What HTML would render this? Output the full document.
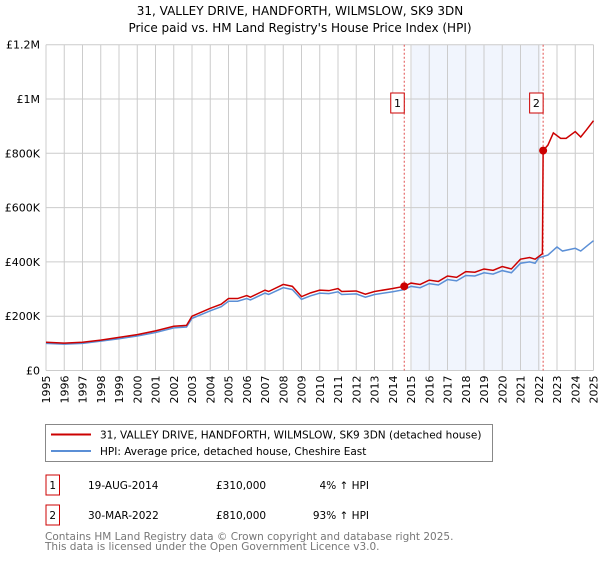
<!DOCTYPE html>
<html><head><meta charset="utf-8"><style>
body{margin:0;background:#fff;width:600px;height:560px;overflow:hidden;font-family:"DejaVu Sans","Liberation Sans",sans-serif;}
svg text{font-family:"DejaVu Sans","Liberation Sans",sans-serif;}
</style></head><body>
<svg width="600" height="560" id="c">
<text x="300" y="15" text-anchor="middle" font-size="12">31, VALLEY DRIVE, HANDFORTH, WILMSLOW, SK9 3DN</text>
<text x="300" y="32" text-anchor="middle" font-size="12">Price paid vs. HM Land Registry's House Price Index (HPI)</text>
<g id="grid"></g><g id="plot"></g><g id="axes"></g>
<g>
<rect x="45.5" y="424.5" width="447" height="37" fill="#fff" stroke="#888"/>
<line x1="51" y1="434.5" x2="91" y2="434.5" stroke="#cc0000" stroke-width="2"/>
<text x="100" y="438.5" font-size="10.5">31, VALLEY DRIVE, HANDFORTH, WILMSLOW, SK9 3DN (detached house)</text>
<line x1="51" y1="451" x2="91" y2="451" stroke="#5b8fd6" stroke-width="2"/>
<text x="100" y="455" font-size="10.5">HPI: Average price, detached house, Cheshire East</text>
</g>
<g font-size="10.5">
<rect x="46" y="475" width="13.5" height="20" fill="#fff" stroke="#cc0000"/>
<text x="52.7" y="489" text-anchor="middle">1</text>
<text x="88" y="489">19-AUG-2014</text><text x="216" y="489">£310,000</text><text x="369" y="489" text-anchor="end">4% ↑ HPI</text>
<rect x="46" y="505" width="13.5" height="20" fill="#fff" stroke="#cc0000"/>
<text x="52.7" y="519" text-anchor="middle">2</text>
<text x="88" y="519">30-MAR-2022</text><text x="216" y="519">£810,000</text><text x="369" y="519" text-anchor="end">93% ↑ HPI</text>
</g>
<text x="45" y="540" font-size="10.5" fill="#777">Contains HM Land Registry data © Crown copyright and database right 2025.</text>
<text x="45" y="550" font-size="10.5" fill="#777">This data is licensed under the Open Government Licence v3.0.</text>
</svg>
<script>
const yearTicks=[1995,1996,1997,1998,1999,2000,2001,2002,2003,2004,2005,2006,2007,2008,2009,2010,2011,2012,2013,2014,2015,2016,2017,2018,2019,2020,2021,2022,2023,2024,2025];
const valueTicks=[0,200000,400000,600000,800000,1000000,1200000];
const valueTickLabels=["£0","£200K","£400K","£600K","£800K","£1M","£1.2M"];
const hpiDates=[1995,1996,1997,1998,1999,2000,2001,2002,2002.7,2003,2004,2004.6,2005,2005.5,2006,2006.2,2007,2007.2,2008,2008.5,2009,2009.5,2010,2010.5,2011,2011.2,2012,2012.5,2013,2014,2014.63,2015,2015.5,2016,2016.5,2017,2017.5,2018,2018.5,2019,2019.5,2020,2020.5,2021,2021.5,2021.8,2022,2022.5,2023,2023.3,2024,2024.3,2024.7,2025];
const hpiValues=[100000,97000,100000,108000,117000,127000,140000,157000,160000,192000,220000,235000,255000,255000,265000,260000,285000,280000,305000,298000,262000,275000,285000,283000,290000,280000,282000,270000,280000,290000,298000,310000,305000,320000,315000,335000,330000,350000,348000,360000,355000,368000,360000,395000,400000,395000,415000,425000,455000,440000,450000,440000,462000,478000];
const priceDates=[1995,1996,1997,1998,1999,2000,2001,2002,2002.7,2003,2004,2004.6,2005,2005.5,2006,2006.2,2007,2007.2,2008,2008.5,2009,2009.5,2010,2010.5,2011,2011.2,2012,2012.5,2013,2014,2014.63,2015,2015.5,2016,2016.5,2017,2017.5,2018,2018.5,2019,2019.5,2020,2020.5,2021,2021.5,2021.8,2022.2,2022.24,2022.5,2022.8,2023.2,2023.5,2024,2024.3,2024.6,2025];
const priceValues=[104000,101000,104000,112000,122000,132000,146000,163000,166000,200000,229000,244000,265000,265000,276000,270000,296000,291000,317000,310000,272000,286000,296000,294000,302000,291000,293000,281000,291000,302000,310000,322000,317000,333000,328000,348000,343000,364000,362000,374000,369000,383000,374000,410000,416000,410000,430000,810000,830000,875000,855000,855000,880000,860000,885000,920000];
const sales=[{d:2014.63,v:310000,label:"1"},{d:2022.24,v:810000,label:"2"}];
const shadeRange=[2015.05,2022.1];
const X0=46,X1=593.5,Y0=370.5,Y1=44.7;
const xs=d=>X0+(d-1995)/(2025-1995)*(X1-X0);
const ys=v=>Y0-v/1200000*(Y0-Y1);
const NS="http://www.w3.org/2000/svg";
function mk(p,t,a){const e=document.createElementNS(NS,t);for(const k in a)e.setAttribute(k,a[k]);p.appendChild(e);return e;}
const grid=document.getElementById('grid'),plot=document.getElementById('plot'),axes=document.getElementById('axes');
const sh=mk(grid,'rect',{x:xs(shadeRange[0]),y:Y1,width:xs(shadeRange[1])-xs(shadeRange[0]),height:Y0-Y1,fill:'#eef3fc',opacity:0.8});


yearTicks.forEach(y=>{
 const l=mk(grid,'line',{x1:xs(y),x2:xs(y),y1:Y1,y2:Y0,stroke:'#ccc','stroke-width':1});
 
 
 const t=mk(axes,'text',{transform:`translate(${xs(y)+4},${Y0+5}) rotate(-90)`,'text-anchor':'end','font-size':11});
 
 
 t.textContent=y;
});
valueTicks.forEach((v,i)=>{
 const l=mk(grid,'line',{x1:X0,x2:X1,y1:ys(v),y2:ys(v),stroke:'#ccc','stroke-width':1});
 
 
 const t=mk(axes,'text',{x:X0-6,y:ys(v)+4,'text-anchor':'end','font-size':11});
 
 
 t.textContent=valueTickLabels[i];
});
sales.forEach(s=>{
 const l=mk(plot,'line',{x1:xs(s.d),x2:xs(s.d),y1:Y1,y2:Y0,stroke:'#e05050','stroke-width':1,'stroke-dasharray':'2,2'});
 
 
});
const hp=mk(plot,'polyline',{points:hpiDates.map((d,i)=>xs(d)+','+ys(hpiValues[i])).join(' '),fill:'none',stroke:'#5b8fd6','stroke-width':1.5});


const pp=mk(plot,'polyline',{points:priceDates.map((d,i)=>xs(d)+','+ys(priceValues[i])).join(' '),fill:'none',stroke:'#cc0000','stroke-width':1.5});


sales.forEach(s=>{
 const c=mk(plot,'circle',{cx:xs(s.d),cy:ys(s.v),r:4,fill:'#cc0000'});
 
 
 const g=mk(plot,'g',{});
 
 
 mk(g,'rect',{x:xs(s.d)-13.5,y:93,width:13.5,height:20,fill:'#fff',stroke:'#cc0000'});
 const t=mk(g,'text',{x:xs(s.d)-6.7,y:107,'text-anchor':'middle','font-size':11});
 t.textContent=s.label;
});
</script>
</body></html>
